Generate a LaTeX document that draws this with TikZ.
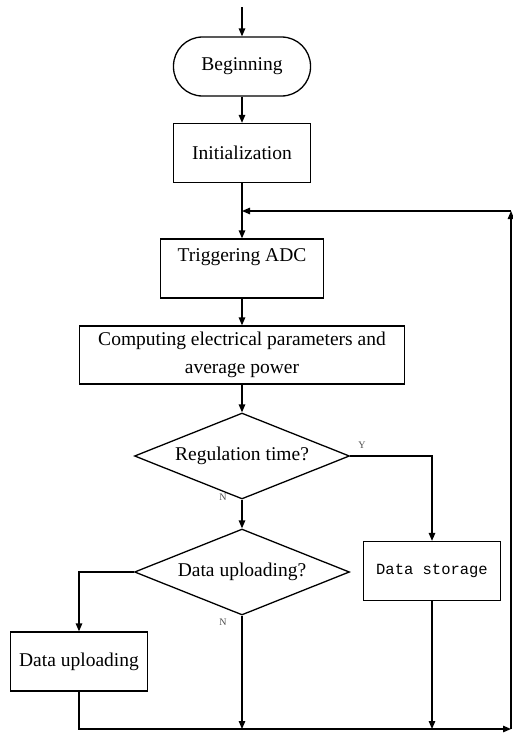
\documentclass[tikz,border=0pt]{standalone}
\usepackage{fontspec}
\setmainfont{Liberation Serif}
\setmonofont{Liberation Mono}
\usetikzlibrary{arrows.meta,shapes.geometric}
\tikzset{>={Triangle[length=8pt,width=6.5pt]}}
\tikzset{
  box/.style={draw,minimum width=137pt,minimum height=59pt,inner sep=2pt,
    font=\fontsize{19.5}{28}\selectfont,align=center},
  ask/.style={draw,diamond,aspect=2.5,minimum width=215pt,minimum height=86pt,inner sep=0pt,
    font=\fontsize{19.5}{22}\selectfont},
  yn/.style={font=\fontsize{10}{12}\selectfont,text=black!70,inner sep=0pt}
}

\begin{document}
\begin{tikzpicture}[x=1pt,y=-1pt,line width=1.3pt]
\useasboundingbox (0,0) rectangle (513,736);
\coordinate (start) at (242,7);
\node[box,rounded corners=29pt] (begin) at (242,66.5) {Beginning};
\node[box] (init) at (242,153) {Initialization};
\coordinate (join) at (242,211);
\node[box,minimum width=163pt,text depth=27pt] (trig) at (242,268.5) {Triggering ADC};
\node[box,minimum width=325pt,minimum height=58pt] (comp) at (242,355)
  {Computing electrical parameters and\\average power};
\node[ask] (reg) at (242,456) {Regulation time?};
\node[ask] (upl) at (242,572) {Data uploading?};
\node[box,font=\fontsize{15.5}{18}\ttfamily] (store) at (432,571) {Data storage};
\node[box] (dup) at (79,661.5) {Data uploading};
% loop back corners
\coordinate (br) at (511,729);
\coordinate (tr) at (511,211);
\coordinate (m1) at (242,729);
\coordinate (m2) at (store.south |- br);
\node[yn] (y1) at (362,445) {Y};
\node[yn] (n1) at (223,497) {N};
\node[yn] (n2) at (223,622) {N};
\foreach \a/\b in {start/begin,begin/init,join/trig,trig/comp,comp/reg,reg/upl,upl.south/m1,store/m2} {
  \draw[->] (\a) -- (\b);
}
\draw (init) -- (join);
\draw[->] (reg.east) -| (store.north);
\draw[->] (upl.west) -| (dup.north);
\draw[->] (dup.south) |- (br);
\draw[->] (br) -- (tr);
\draw[->] (tr) -- (join);
\end{tikzpicture}
\end{document}
